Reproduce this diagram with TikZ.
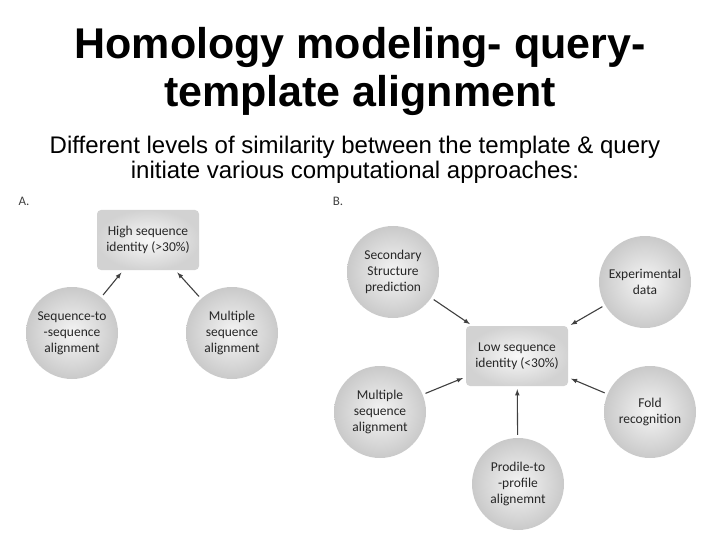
\documentclass[tikz,border=0pt]{standalone}
\usepackage{fontspec}
\setmainfont{Liberation Sans}
\newfontfamily\carlitofont{Carlito}
\begin{document}
\begin{tikzpicture}[x=1pt,y=-1pt,
  circ/.style={circle,minimum size=92pt,inner sep=0pt,align=center,shading=radial,inner color=gray!8,outer color=gray!42,font=\carlitofont\fontsize{13.5}{16}\selectfont,text=black!85},
  sqbox/.style={rounded corners=4pt,minimum width=102pt,minimum height=60pt,inner sep=0pt,align=center,shading=radial,inner color=gray!5,outer color=gray!35,font=\carlitofont\fontsize{13.5}{16}\selectfont,text=black!85},
  arr/.style={-latex,draw=black!75,line width=1.1pt,shorten >=3pt,shorten <=3pt}]
\useasboundingbox (0,0) rectangle (720,540);
\node[font=\bfseries\fontsize{43}{48}\selectfont,align=center] (title) at (360,71) {Homology modeling- query-\\template alignment};
\node[font=\fontsize{24}{25}\selectfont,align=center] (sub) at (355,160) {Different levels of similarity between the template \& query\\initiate various computational approaches:};
\node[font=\carlitofont\fontsize{13}{14}\selectfont,text=black!75] (la) at (24,201) {A.};
\node[font=\carlitofont\fontsize{13}{14}\selectfont,text=black!75] (lb) at (338,201) {B.};
% A
\node[sqbox] (hi) at (148,240) {High sequence\\identity (>30\%)};
\node[circ] (s2s) at (72,333) {Sequence-to\\-sequence\\alignment};
\node[circ] (msa) at (232,333) {Multiple\\sequence\\alignment};
\draw[arr] (s2s) -- (hi);
\draw[arr] (msa) -- (hi);
% B
\node[sqbox] (lo) at (517,356) {Low sequence\\identity (<30\%)};
\node[circ] (ss) at (393,272) {Secondary\\Structure\\prediction};
\node[circ] (exp) at (645,282) {Experimental\\data};
\node[circ] (msb) at (380,412) {Multiple\\sequence\\alignment};
\node[circ] (fold) at (650,412) {Fold\\recognition};
\node[circ] (pp) at (518,484) {Prodile-to\\-profile\\alignemnt};
\draw[arr] (ss) -- (lo);
\draw[arr] (exp) -- (lo);
\draw[arr] (msb) -- (lo);
\draw[arr] (fold) -- (lo);
\draw[arr] (pp) -- (lo);
\end{tikzpicture}
\end{document}
